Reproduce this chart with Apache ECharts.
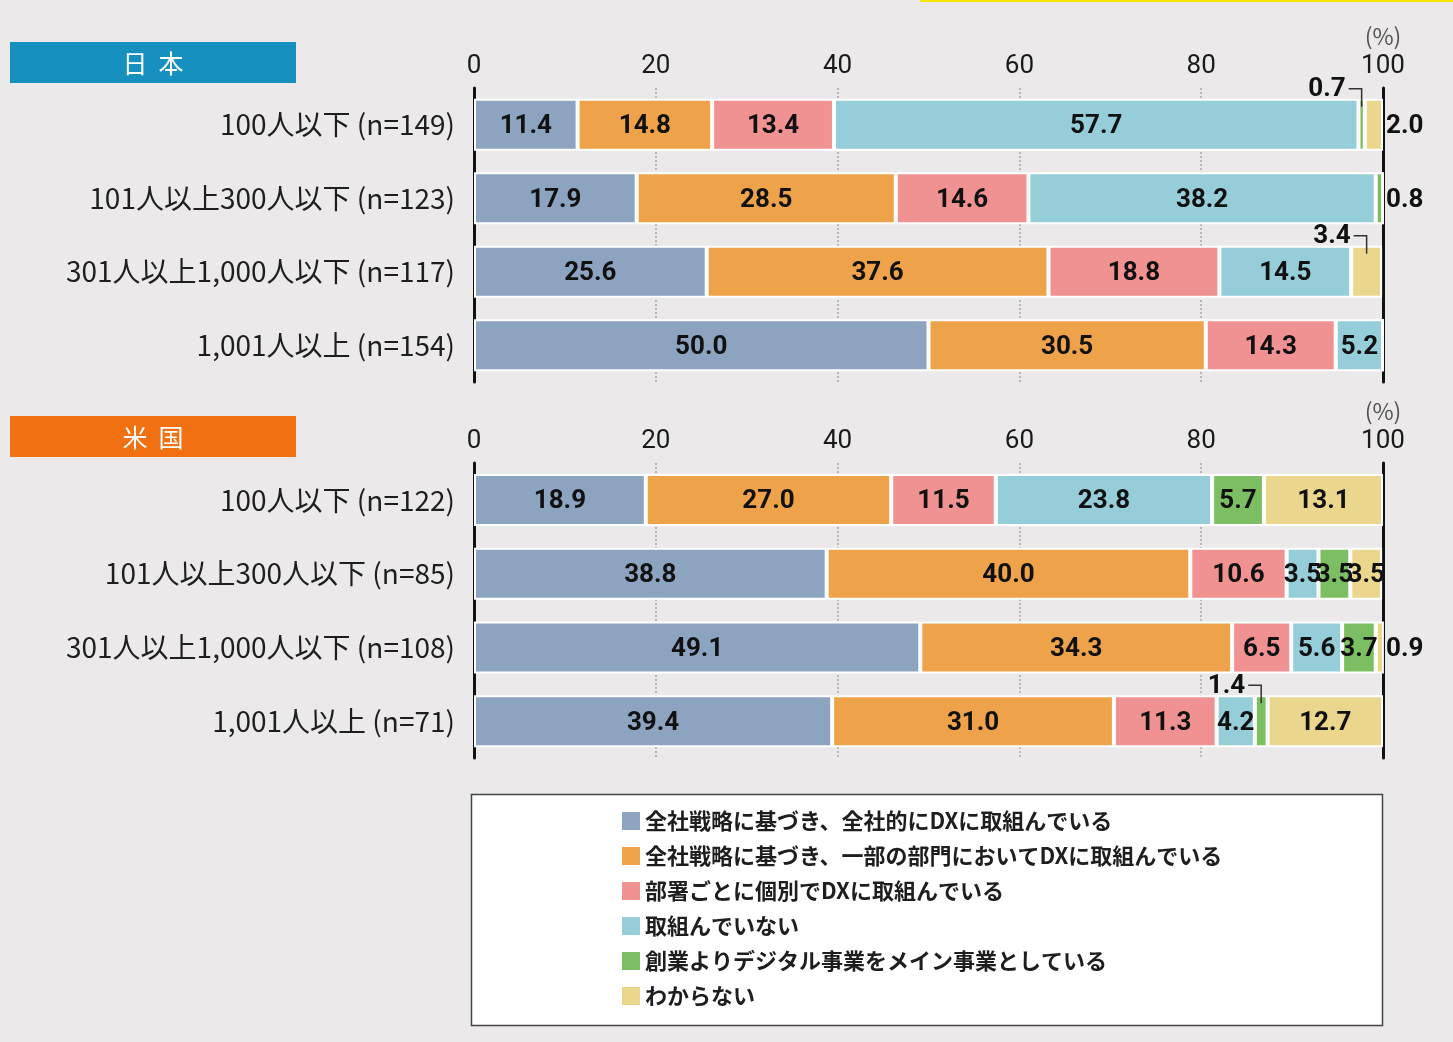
<!DOCTYPE html>
<html>
<head>
<meta charset="utf-8">
<script src="https://cdn.jsdelivr.net/npm/echarts@6/dist/echarts.min.js"></script>
<style>
  html, body { margin: 0; padding: 0; background: #ebe9ea; }
  #chart { width: 1453px; height: 1042px; }
</style>
</head>
<body>
<div id="chart"></div>
<script>
// DX取組状況 — 日本 / 米国、従業員規模別の100%積み上げ横棒
const seriesNames = [
  '全社戦略に基づき、全社的にDXに取組んでいる',
  '全社戦略に基づき、一部の部門においてDXに取組んでいる',
  '部署ごとに個別でDXに取組んでいる',
  '取組んでいない',
  '創業よりデジタル事業をメイン事業としている',
  'わからない'
];
const colors = ['#8da4c1', '#eea24a', '#f09192', '#95cdd9', '#7cbf62', '#ebd68e'];

const categoriesJP = ['100人以下 (n=149)', '101人以上300人以下 (n=123)', '301人以上1,000人以下 (n=117)', '1,001人以上 (n=154)'];
const categoriesUS = ['100人以下 (n=122)', '101人以上300人以下 (n=85)', '301人以上1,000人以下 (n=108)', '1,001人以上 (n=71)'];

// one array per answer, one value per size class (top to bottom)
const jpValues = [
  [11.4, 17.9, 25.6, 50.0],
  [14.8, 28.5, 37.6, 30.5],
  [13.4, 14.6, 18.8, 14.3],
  [57.7, 38.2, 14.5, 5.2],
  [0.7, 0.8, 0, 0],
  [2.0, 0, 3.4, 0]
];
const usValues = [
  [18.9, 38.8, 49.1, 39.4],
  [27.0, 40.0, 34.3, 31.0],
  [11.5, 10.6, 6.5, 11.3],
  [23.8, 3.5, 5.6, 4.2],
  [5.7, 3.5, 3.7, 1.4],
  [13.1, 3.5, 0.9, 12.7]
];

// segments whose value is written outside the bar
const jpCallouts = [
  { row: 0, seg: 4, kind: 'above' },
  { row: 0, seg: 5, kind: 'right' },
  { row: 1, seg: 4, kind: 'right' },
  { row: 2, seg: 5, kind: 'above' }
];
const usCallouts = [
  { row: 2, seg: 5, kind: 'right' },
  { row: 3, seg: 4, kind: 'above' }
];

const NUM_FONT = '"Liberation Sans Narrow", Roboto, sans-serif';
const JP_FONT = '"Noto Sans CJK JP", "Noto Sans", sans-serif';
const LABEL_SIZE = 26;

const chart = echarts.init(document.getElementById('chart'));

function isCallout(list, row, seg) {
  return list.some(function (c) { return c.row === row && c.seg === seg; });
}

function xAxisFor(gridIndex) {
  return {
    type: 'value', gridIndex: gridIndex, position: 'top',
    min: 0, max: 100, interval: 20,
    axisLine: { show: false }, axisTick: { show: false },
    axisLabel: {
      margin: 9, fontSize: 26, fontFamily: NUM_FONT, color: '#1a1a1a', lineHeight: 26,
      formatter: function (v) { return v === 100 ? '{p|(%)}\n100' : String(v); },
      rich: { p: { fontSize: 23, lineHeight: 28, color: '#555', fontFamily: JP_FONT, verticalAlign: 'top' } }
    },
    splitLine: {
      show: true,
      lineStyle: { color: '#a8a8a8', type: [2, 2], width: 1.5 }
    }
  };
}

function yAxesFor(gridIndex, cats) {
  return [{
    type: 'category', gridIndex: gridIndex, data: cats, inverse: true,
    axisLine: { show: true, lineStyle: { color: '#111', width: 3 } },
    axisTick: { show: false },
    axisLabel: { margin: 19, fontSize: 28, fontFamily: JP_FONT, color: '#1e1e1e' }
  }, {
    type: 'category', gridIndex: gridIndex, data: cats, inverse: true, position: 'right',
    axisLine: { show: true, lineStyle: { color: '#111', width: 3 } },
    axisTick: { show: false }, axisLabel: { show: false }
  }];
}

function seriesFor(values, gridIndex, callouts, stackName) {
  return values.map(function (vals, si) {
    return {
      name: seriesNames[si], type: 'bar', stack: stackName,
      xAxisIndex: gridIndex, yAxisIndex: gridIndex * 2,
      barWidth: 52,
      itemStyle: { color: colors[si], borderColor: '#fff', borderWidth: 2 },
      emphasis: { disabled: true },
      label: {
        show: true, position: 'inside', offset: [0, 2], color: '#111', fontSize: LABEL_SIZE,
        fontWeight: 'bold', fontFamily: NUM_FONT,
        formatter: function (p) {
          if (p.value <= 0 || isCallout(callouts, p.dataIndex, si)) return '';
          return p.value.toFixed(1);
        }
      },
      data: vals
    };
  });
}

chart.setOption({
  backgroundColor: '#ebe9ea',
  animation: false,
  grid: [
    { left: 474, right: 70, top: 88, height: 294 },
    { left: 474, right: 70, top: 463, height: 295 }
  ],
  xAxis: [xAxisFor(0), xAxisFor(1)],
  yAxis: yAxesFor(0, categoriesJP).concat(yAxesFor(1, categoriesUS)),
  legend: {
    orient: 'vertical', left: 622, top: 810, padding: 0,
    itemWidth: 18, itemHeight: 18, itemGap: 13, icon: 'rect',
    selectedMode: false, z: 10,
    itemStyle: { borderWidth: 0 },
    textStyle: { fontSize: 22, lineHeight: 22, color: '#1e1e1e', fontFamily: JP_FONT, fontWeight: 'bold' },
    data: seriesNames
  },
  series: seriesFor(jpValues, 0, jpCallouts, 'jp').concat(seriesFor(usValues, 1, usCallouts, 'us'))
});

// callout labels, placed from the axes' own scales
function calloutGraphics(values, gridIndex, callouts) {
  const out = [];
  callouts.forEach(function (c) {
    let start = 0;
    for (let i = 0; i < c.seg; i++) start += values[i][c.row];
    const v = values[c.seg][c.row];
    const txt = v.toFixed(1);
    const font = 'bold ' + LABEL_SIZE + 'px ' + NUM_FONT;
    const center = chart.convertToPixel({ gridIndex: gridIndex }, [start + v / 2, c.row]);
    const end = chart.convertToPixel({ gridIndex: gridIndex }, [100, c.row]);
    if (c.kind === 'right') {
      out.push({ type: 'text', z: 20, style: { text: txt, x: end[0] + 3, y: center[1] + 2, align: 'left', verticalAlign: 'middle', font: font, fill: '#111' } });
    } else {
      const barTop = center[1] - 26;
      const ly = barTop - 10;
      const lx = center[0] - 16;
      out.push({ type: 'text', z: 20, style: { text: txt, x: lx, y: ly + 1, align: 'right', verticalAlign: 'middle', font: font, fill: '#111' } });
      out.push({ type: 'polyline', z: 20, shape: { points: [[lx + 3, ly], [center[0], ly], [center[0], barTop + 8]] }, style: { stroke: '#333', lineWidth: 1.5, fill: null } });
    }
  });
  return out;
}

chart.setOption({
  graphic: {
    elements: [
      { type: 'rect', z: 0, shape: { x: 920, y: 0, width: 533, height: 2 }, style: { fill: '#f3e600' } },
      { type: 'rect', z: 0, shape: { x: 10, y: 42, width: 286, height: 41 }, style: { fill: '#1590bf' } },
      { type: 'text', z: 1, style: { text: '日  本', x: 153, y: 63, align: 'center', verticalAlign: 'middle', font: '25px ' + JP_FONT, fill: '#fff' } },
      { type: 'rect', z: 0, shape: { x: 10, y: 416, width: 286, height: 41 }, style: { fill: '#f07012' } },
      { type: 'text', z: 1, style: { text: '米  国', x: 153, y: 437, align: 'center', verticalAlign: 'middle', font: '25px ' + JP_FONT, fill: '#fff' } },
      { type: 'rect', z: 0, shape: { x: 471.5, y: 794.5, width: 911, height: 231 }, style: { fill: '#fff', stroke: '#444', lineWidth: 1.5 } }
    ].concat(calloutGraphics(jpValues, 0, jpCallouts), calloutGraphics(usValues, 1, usCallouts))
  }
});
</script>
</body>
</html>
